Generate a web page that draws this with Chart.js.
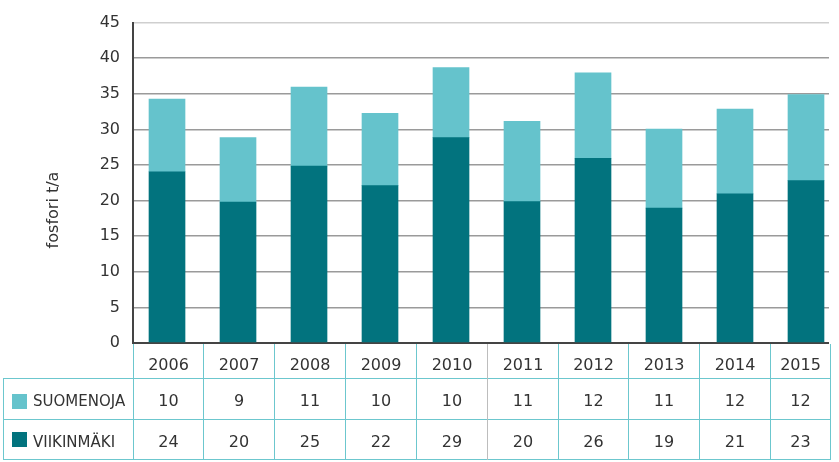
<!DOCTYPE html>
<html>
<head>
<meta charset="utf-8">
<script src="https://cdn.jsdelivr.net/npm/chart.js@4/dist/chart.umd.min.js"></script>
<style>
  html, body { margin: 0; padding: 0; background: #fff; }
  #wrap { width: 839px; height: 462px; }
</style>
</head>
<body>
<div id="wrap"><canvas id="chart" width="839" height="462"></canvas></div>
<script>
// ─── data ───
const years      = ['2006', '2007', '2008', '2009', '2010', '2011', '2012', '2013', '2014', '2015'];
const suomenoja  = [10.2, 9.05, 11.1, 10.15, 9.85, 11.3, 12.0, 11.1, 11.9, 12.1];
const viikinmaki = [24.05, 19.8, 24.85, 22.1, 28.85, 19.85, 25.95, 18.95, 20.95, 22.8];
const yTicks     = [0, 5, 10, 15, 20, 25, 30, 35, 40, 45];

const LIGHT = '#65c3cc';
const DARK  = '#02737e';
const INK   = '#333333';
const LINE  = '#6cc7ce';
const FONT  = "'DejaVu Sans', sans-serif";

const toPoints = (arr) => arr.map((v, i) => ({ x: i, y: v }));

// table + y title drawn under the plot
const tablePlugin = {
  id: 'dataTable',
  afterDraw(chart) {
    const { ctx, chartArea, scales } = chart;
    const xs = scales.x;
    const top = chartArea.bottom;
    const r1 = top + 35, r2 = top + 76, r3 = top + 116;
    const left = 3, right = chartArea.right + 1;

    const borders = [];
    for (let i = 0; i <= years.length; i++) {
      let px = xs.getPixelForValue(i - 0.5);
      px = Math.max(chartArea.left, Math.min(right, px));
      borders.push(Math.round(px) + 0.5);
    }

    ctx.save();
    ctx.lineWidth = 1;
    ctx.strokeStyle = LINE;
    // horizontal rules
    [r1, r2, r3].forEach((y) => {
      ctx.beginPath();
      ctx.moveTo(left, y + 0.5);
      ctx.lineTo(right, y + 0.5);
      ctx.stroke();
    });
    // outer left border
    ctx.beginPath();
    ctx.moveTo(left + 0.5, r1);
    ctx.lineTo(left + 0.5, r3);
    ctx.stroke();
    // column borders
    borders.forEach((bx, i) => {
      ctx.strokeStyle = i === 5 ? '#bdbdbd' : LINE;
      ctx.beginPath();
      ctx.moveTo(bx, top + 1);
      ctx.lineTo(bx, r3 + 1);
      ctx.stroke();
    });

    // texts
    ctx.fillStyle = INK;
    ctx.textAlign = 'center';
    ctx.textBaseline = 'middle';
    ctx.font = '16px ' + FONT;
    years.forEach((yr, i) => {
      const cx = (borders[i] + borders[i + 1]) / 2;
      ctx.fillText(yr, cx, top + 23);
      ctx.fillText(String(Math.round(suomenoja[i])), cx, top + 59);
      ctx.fillText(String(Math.round(viikinmaki[i])), cx, top + 100);
    });

    // row labels with swatches
    ctx.fillStyle = LIGHT;
    ctx.fillRect(12, top + 51, 15, 15);
    ctx.fillStyle = DARK;
    ctx.fillRect(12, top + 89, 15, 15);
    ctx.fillStyle = INK;
    ctx.textAlign = 'left';
    ctx.font = '15px ' + FONT;
    ctx.fillText('SUOMENOJA', 33, top + 59);
    ctx.fillText('VIIKINMÄKI', 33, top + 100);

    // y axis title
    ctx.translate(54, 210);
    ctx.rotate(-Math.PI / 2);
    ctx.textAlign = 'center';
    ctx.font = '16px ' + FONT;
    ctx.fillText('fosfori t/a', 0, 0);
    ctx.restore();
  }
};

new Chart(document.getElementById('chart'), {
  type: 'bar',
  data: {
    datasets: [
      { label: 'VIIKINMÄKI', data: toPoints(viikinmaki), backgroundColor: DARK, barThickness: 36 },
      { label: 'SUOMENOJA', data: toPoints(suomenoja), backgroundColor: LIGHT, barThickness: 36 },
    ],
  },
  options: {
    responsive: false,
    animation: false,
    layout: { padding: { top: 15, right: 10, bottom: 119, left: 0 } },
    plugins: { legend: { display: false }, tooltip: { enabled: false } },
    scales: {
      x: {
        type: 'linear', display: false, stacked: true, offset: false,
        grid: { offset: false }, min: -0.479, max: 9.324,
      },
      y: {
        stacked: true,
        min: 0,
        max: 45,
        afterFit: (s) => { s.width = 133; },
        afterBuildTicks: (s) => { s.ticks = yTicks.map((v) => ({ value: v })); },
        border: { color: '#444', width: 2 },
        grid: {
          drawTicks: false,
          color: (c) => (c.tick.value === 0 ? '#444' : c.tick.value === 45 ? '#cfcfcf' : '#9a9a9a'),
          lineWidth: (c) => (c.tick.value === 0 ? 2 : 1.5),
        },
        ticks: { color: INK, padding: 13, font: { family: FONT, size: 16 } },
      },
    },
  },
  plugins: [tablePlugin],
});
</script>
</body>
</html>
